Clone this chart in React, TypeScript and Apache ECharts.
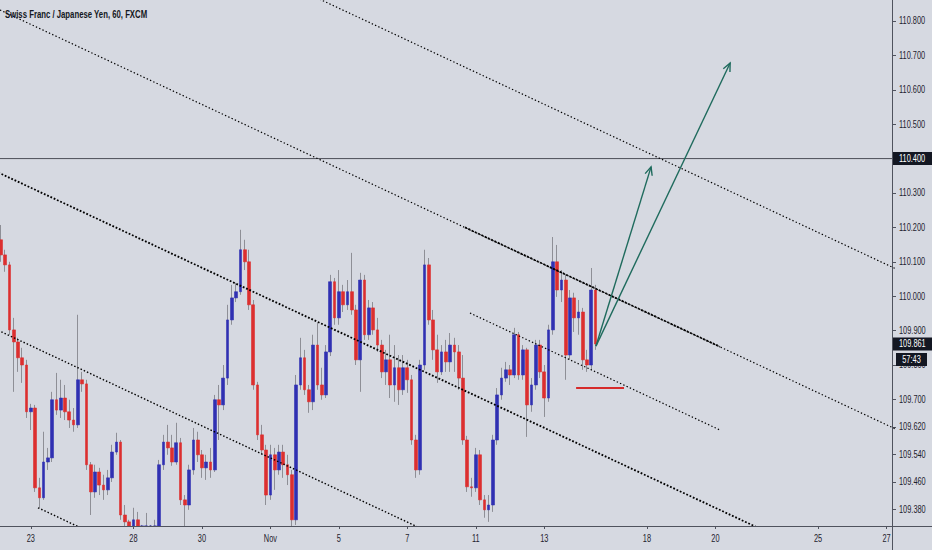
import React, { useEffect, useRef } from "react";
import * as echarts from "echarts";

const TITLE = "Swiss Franc / Japanese Yen, 60, FXCM";

// x-axis: trading days counted from Oct 23, labels shown only on these days
const dayLabelIndex = [0, 3, 5, 7, 9, 11, 13, 15, 18, 20, 23, 25];
const dayLabelText = ["23", "28", "30", "Nov", "5", "7", "11", "13", "18", "20", "25", "27"];

// price axis labels (as printed on the chart)
const priceTicks = [109.38, 109.46, 109.54, 109.62, 109.7, 109.8, 109.9, 110.0, 110.1, 110.2, 110.3, 110.4, 110.5, 110.6, 110.7, 110.8];

// 3-hour candles (open = previous close)
const firstOpen = 110.164;
const closes = [
  110.120, 110.091, 109.902, 109.867, 109.821, 109.800, 109.664, 109.675, 109.443, 109.414,
  109.518, 109.530, 109.699, 109.669, 109.704, 109.664, 109.640, 109.626, 109.757, 109.745,
  109.510, 109.431, 109.489, 109.451, 109.437, 109.472, 109.547, 109.576, 109.364, 109.344,
  109.306, 109.350, 109.321, 109.306, 109.321, 109.306, 109.326, 109.510, 109.576, 109.559,
  109.518, 109.574, 109.408, 109.393, 109.495, 109.582, 109.539, 109.501, 109.518, 109.495,
  109.699, 109.684, 109.762, 109.931, 109.995, 110.013, 110.135, 110.100, 109.975, 109.742,
  109.597, 109.553, 109.422, 109.539, 109.495, 109.547, 109.510, 109.481, 109.350, 109.742,
  109.821, 109.728, 109.693, 109.858, 109.742, 109.713, 109.838, 110.042, 109.937, 110.013,
  109.975, 110.013, 109.960, 109.815, 110.047, 109.888, 109.966, 109.902, 109.858, 109.780,
  109.815, 109.742, 109.792, 109.728, 109.792, 109.757, 109.582, 109.495, 109.800, 110.091,
  109.931, 109.844, 109.780, 109.838, 109.809, 109.858, 109.838, 109.762, 109.582, 109.446,
  109.443, 109.539, 109.408, 109.379, 109.393, 109.582, 109.713, 109.762, 109.786, 109.771,
  109.888, 109.771, 109.844, 109.684, 109.742, 109.858, 109.780, 109.704, 109.902, 110.100,
  110.018, 110.047, 109.829, 109.995, 109.937, 109.954, 109.815, 109.800, 110.018, 109.861,
];
const highs = [
  110.207, 110.135, 110.100, 109.937, 109.879, 109.850, 109.815, 109.687, 109.684, 109.472,
  109.606, 109.559, 109.722, 109.777, 109.757, 109.742, 109.699, 109.675, 109.946, 109.780,
  109.757, 109.518, 109.510, 109.501, 109.481, 109.495, 109.568, 109.603, 109.582, 109.393,
  109.350, 109.385, 109.373, 109.335, 109.370, 109.335, 109.350, 109.524, 109.597, 109.626,
  109.597, 109.632, 109.588, 109.422, 109.510, 109.617, 109.606, 109.553, 109.539, 109.559,
  109.713, 109.742, 109.800, 109.975, 110.033, 110.039, 110.193, 110.164, 110.135, 109.989,
  109.751, 109.626, 109.568, 109.568, 109.559, 109.568, 109.568, 109.539, 109.495, 109.771,
  109.879, 109.844, 109.742, 109.888, 109.922, 109.792, 109.858, 110.062, 110.053, 110.076,
  110.033, 110.047, 110.126, 109.975, 110.068, 110.062, 109.989, 109.983, 109.937, 109.873,
  109.844, 109.888, 109.858, 109.829, 109.829, 109.815, 109.771, 109.597, 109.815, 110.135,
  110.111, 109.960, 109.888, 109.858, 109.873, 109.893, 109.879, 109.858, 109.829, 109.594,
  109.472, 109.559, 109.553, 109.422, 109.422, 109.597, 109.733, 109.792, 109.809, 109.800,
  109.908, 109.896, 109.858, 109.850, 109.762, 109.873, 109.873, 109.800, 109.917, 110.172,
  110.149, 110.076, 110.062, 110.018, 110.010, 109.989, 109.966, 109.844, 110.082, 110.033,
];
const lows = [
  110.100, 110.071, 109.888, 109.722, 109.780, 109.748, 109.646, 109.611, 109.431, 109.385,
  109.408, 109.495, 109.518, 109.655, 109.646, 109.640, 109.617, 109.606, 109.617, 109.722,
  109.495, 109.364, 109.414, 109.422, 109.408, 109.422, 109.460, 109.539, 109.350, 109.306,
  109.277, 109.292, 109.292, 109.277, 109.277, 109.268, 109.277, 109.321, 109.495, 109.539,
  109.507, 109.510, 109.393, 109.321, 109.379, 109.481, 109.518, 109.472, 109.466, 109.472,
  109.489, 109.582, 109.669, 109.742, 109.917, 109.983, 110.004, 110.076, 109.960, 109.728,
  109.582, 109.539, 109.393, 109.408, 109.437, 109.481, 109.472, 109.451, 109.321, 109.335,
  109.728, 109.713, 109.661, 109.669, 109.728, 109.699, 109.704, 109.826, 109.917, 109.917,
  109.954, 109.960, 109.946, 109.800, 109.722, 109.873, 109.873, 109.888, 109.838, 109.762,
  109.742, 109.704, 109.693, 109.684, 109.713, 109.719, 109.568, 109.472, 109.481, 109.786,
  109.917, 109.815, 109.748, 109.771, 109.780, 109.780, 109.780, 109.728, 109.568, 109.431,
  109.417, 109.431, 109.393, 109.356, 109.344, 109.373, 109.568, 109.699, 109.751, 109.742,
  109.762, 109.757, 109.757, 109.591, 109.664, 109.728, 109.762, 109.649, 109.693, 109.888,
  109.998, 109.983, 109.757, 109.815, 109.896, 109.888, 109.786, 109.780, 109.786, 109.844,
];

const lastPrice = 109.861;
const countdown = "57:43";
const levelPrice = 110.4;

// drawings, in [trading day, price, trading day, price]
const thinDotted = [
  [7.865, 110.890, 25.39, 110.074],
  [-0.9, 110.832, 25.39, 109.608],
  [12.83, 109.951, 20.134, 109.611],
];
const boldDotted = [
  [-1.046, 110.364, 21.304, 109.324],
  [12.685, 110.2, 20.134, 109.853],
];
const midDotted = [
  [-1.046, 109.905, 11.37, 109.326],
  [0.211, 109.385, 1.496, 109.325],
];
const arrows = [
  [16.51, 109.855, 18.12, 110.376],
  [16.51, 109.855, 20.43, 110.678],
];
const supportSeg = [15.93, 109.733, 17.33, 109.733];

const SLOTS_PER_DAY = 8;
const FIRST_DAY_SLOT = 7;
const TOTAL_SLOTS = 209;
const Y_MIN = 109.332;
const Y_MAX = 110.861;

const FONT = "'Liberation Sans', Arial, sans-serif";
const NARROW = 0.74;
const BG = "#d6d9e1";
const UP = "#3030b2";
const DOWN = "#dc2f2f";
const WICK = "#8e8f96";
const AXIS = "#50535e";
const LABEL = "#1e222d";

export default function App() {
  const ref = useRef<HTMLDivElement>(null);

  useEffect(() => {
    if (!ref.current) return;
    const chart = echarts.init(ref.current, null, { renderer: "svg" });

    const labelBySlot: Record<number, string> = {};
    dayLabelIndex.forEach((d, k) => {
      labelBySlot[FIRST_DAY_SLOT + d * SLOTS_PER_DAY] = dayLabelText[k];
    });
    const categories: string[] = [];
    for (let i = 0; i < TOTAL_SLOTS; i++) {
      categories.push(labelBySlot[i] !== undefined ? labelBySlot[i] : "s" + i);
    }
    const isLabeled = (idx: number) => labelBySlot[idx] !== undefined;

    // the price pane cuts candles at its bottom edge
    const vis = (v: number) => Math.min(Y_MAX, Math.max(Y_MIN, v));
    const full: number[][] = [];
    const bodies: number[][] = [];
    closes.forEach((c, i) => {
      const o = i === 0 ? firstOpen : closes[i - 1];
      full.push([vis(o), vis(c), vis(lows[i]), vis(highs[i])]);
      bodies.push([vis(o), vis(c), vis(Math.min(o, c)), vis(Math.max(o, c))]);
    });

    const dayMin = (-0.5 - FIRST_DAY_SLOT) / SLOTS_PER_DAY;
    const dayMax = (TOTAL_SLOTS - 0.5 - FIRST_DAY_SLOT) / SLOTS_PER_DAY;

    const seg = (s: number[], style: any, z = 5) => ({
      type: "line",
      xAxisIndex: 1,
      yAxisIndex: 0,
      data: [
        [s[0], s[1]],
        [s[2], s[3]],
      ],
      symbol: "none",
      silent: true,
      z,
      lineStyle: style,
    });

    const option: any = {
      animation: false,
      backgroundColor: BG,
      grid: { left: -1.3, right: 39, top: 0, bottom: 24, outerBoundsMode: "none", containLabel: false },
      xAxis: [
        {
          type: "category",
          data: categories,
          boundaryGap: true,
          axisLine: { show: false, onZero: false },
          axisTick: {
            show: true,
            alignWithLabel: true,
            interval: (idx: number) => isLabeled(idx),
            length: 3,
            lineStyle: { color: AXIS },
          },
          axisLabel: { show: false },
          splitLine: { show: false },
        },
        {
          type: "value",
          min: dayMin,
          max: dayMax,
          show: false,
          axisLine: { onZero: false },
          splitLine: { show: false },
        },
      ],
      yAxis: {
        type: "value",
        position: "right",
        min: Y_MIN,
        max: Y_MAX,
        axisLine: { show: false, onZero: false },
        splitLine: { show: false },
        axisTick: { show: true, length: 3, customValues: priceTicks, lineStyle: { color: AXIS } },
        axisLabel: { show: false },
      },
      series: [
        {
          type: "candlestick",
          name: "wicks",
          data: full,
          barWidth: 1,
          z: 3,
          itemStyle: { color: WICK, color0: WICK, borderColor: WICK, borderColor0: WICK, borderWidth: 1 },
          silent: true,
        },
        {
          type: "candlestick",
          name: "bodies",
          data: bodies,
          barWidth: 3.2,
          z: 4,
          itemStyle: { color: UP, color0: DOWN, borderColor: UP, borderColor0: DOWN, borderWidth: 0.6 },
          silent: true,
        },
        seg([dayMin - 1, levelPrice, dayMax + 1, levelPrice], { color: "#4d4f57", width: 1, type: "solid" }, 2),
        ...thinDotted.map((s) => seg(s, { color: "#000", width: 1.2, type: [1.4, 2.2] })),
        ...boldDotted.map((s) => seg(s, { color: "#000", width: 1.8, type: [1.8, 1.8] })),
        ...midDotted.map((s) => seg(s, { color: "#000", width: 1.4, type: [1.5, 2] })),
        seg(supportSeg, { color: "#d62b2b", width: 2, type: "solid" }, 6),
        {
          type: "custom",
          xAxisIndex: 1,
          yAxisIndex: 0,
          data: arrows,
          encode: { x: [0, 2], y: [1, 3] },
          silent: true,
          z: 7,
          clip: false,
          renderItem: (_p: any, api: any) => {
            const a = api.coord([api.value(0), api.value(1)]);
            const b = api.coord([api.value(2), api.value(3)]);
            const ang = Math.atan2(b[1] - a[1], b[0] - a[0]);
            const L = 9;
            const sp = 0.42;
            const h1 = [b[0] - L * Math.cos(ang - sp), b[1] - L * Math.sin(ang - sp)];
            const h2 = [b[0] - L * Math.cos(ang + sp), b[1] - L * Math.sin(ang + sp)];
            const style = { stroke: "#1f6b5d", lineWidth: 1.4, fill: "none" };
            return {
              type: "group",
              children: [
                { type: "line", shape: { x1: a[0], y1: a[1], x2: b[0], y2: b[1] }, style },
                { type: "polyline", shape: { points: [h1, b, h2] }, style },
              ],
            };
          },
        },
      ],
    };

    chart.setOption(option);

    const py = (p: number) => chart.convertToPixel({ yAxisIndex: 0 } as any, p) as number;
    const px = (d: number) => chart.convertToPixel({ xAxisIndex: 1 } as any, d) as number;
    const yLevel = py(levelPrice);
    const yLast = py(lastPrice);

    const txt = (t: string, x: number, y: number, extra: any = {}, z = 22) => ({
      type: "text",
      x,
      y,
      scaleX: NARROW,
      z,
      style: {
        text: t,
        fontFamily: FONT,
        fontSize: 10,
        fill: LABEL,
        verticalAlign: "middle",
        align: "left",
        ...extra,
      },
    });

    const graphics: any[] = [
      txt(TITLE, 5, 14.5, { fontWeight: "bold", fontSize: 10.5, fill: "#131722" }, 22),
      { type: "line", shape: { x1: 892.5, y1: 0, x2: 892.5, y2: 550 }, style: { stroke: AXIS, lineWidth: 1 }, z: 20 },
      { type: "line", shape: { x1: 0, y1: 526.5, x2: 932, y2: 526.5 }, style: { stroke: AXIS, lineWidth: 1 }, z: 20 },
    ];
    priceTicks.forEach((v) => graphics.push(txt(v.toFixed(3), 899, py(v), {}, 19)));
    dayLabelIndex.forEach((d, k) => graphics.push(txt(dayLabelText[k], px(d), 539, { align: "center" }, 19)));
    graphics.push(
      { type: "rect", shape: { x: 893, y: yLevel - 6.5, width: 39, height: 13 }, style: { fill: "#131722" }, z: 21 },
      txt(levelPrice.toFixed(3), 899, yLevel, { fill: "#ffffff" }),
      { type: "rect", shape: { x: 893, y: yLast - 6.5, width: 39, height: 13 }, style: { fill: "#131722" }, z: 21 },
      txt(lastPrice.toFixed(3), 899, yLast, { fill: "#ffffff" }),
      { type: "rect", shape: { x: 896, y: yLast + 9, width: 31, height: 13 }, style: { fill: "#131722" }, z: 21 },
      txt(countdown, 911.5, yLast + 15.5, { fill: "#ffffff", align: "center" })
    );

    chart.setOption({ graphic: graphics });

    return () => chart.dispose();
  }, []);

  return <div ref={ref} style={{ position: "fixed", left: 0, top: 0, width: 932, height: 550 }} />;
}
